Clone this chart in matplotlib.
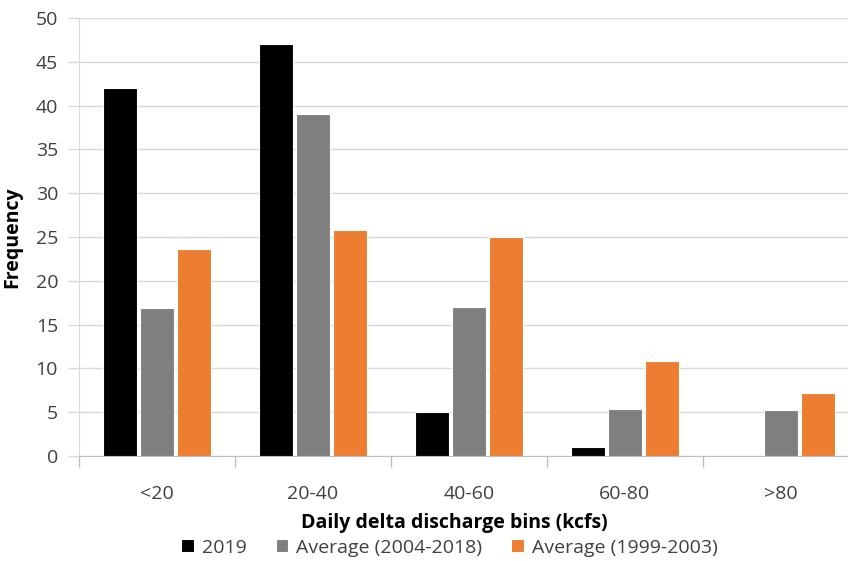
import matplotlib.pyplot as plt
import numpy as np
from matplotlib.ticker import FixedLocator, MultipleLocator, NullFormatter

plt.rcParams["font.family"] = ["Open Sans", "DejaVu Sans"]

bins = ["<20", "20-40", "40-60", "60-80", ">80"]
freq_2019 = [42, 47, 5, 1, 0]
freq_2004_2018 = [16.9, 39, 17, 5.35, 5.25]
freq_1999_2003 = [23.6, 25.8, 25, 10.8, 7.15]

series = [
    ("2019", freq_2019, "#000000"),
    ("Average (2004-2018)", freq_2004_2018, "#7f7f7f"),
    ("Average (1999-2003)", freq_1999_2003, "#ed7d31"),
]

fig = plt.figure(figsize=(8.48, 5.61), dpi=100)
ax = fig.add_axes([0.093, 0.187, 0.907, 0.781])

x = np.arange(len(bins))
width = 0.215
step = 0.238
for i, (name, vals, color) in enumerate(series):
    ax.bar(x + (i - 1) * step, vals, width, color=color, label=name,
           edgecolor="white", linewidth=0.8, zorder=3)

ax.set_ylim(0, 50)
ax.set_xlim(-0.5, 4.43)
ax.yaxis.set_major_locator(MultipleLocator(5))
ax.grid(axis="y", color="#d9d9d9", linewidth=1, zorder=0)

fs = 14
ax.set_xticks(x)
ax.set_xticklabels(bins)
ax.xaxis.set_minor_locator(FixedLocator(np.arange(-0.5, 5, 1)))
ax.xaxis.set_minor_formatter(NullFormatter())
ax.tick_params(axis="x", which="major", length=0, pad=21, labelsize=fs,
               colors="#404040")
ax.tick_params(axis="x", which="minor", length=8, color="#bfbfbf", width=1)
ax.tick_params(axis="y", length=8, color="#d9d9d9", width=1, pad=7,
               labelsize=fs, labelcolor="#404040")

for side in ["top", "right"]:
    ax.spines[side].set_visible(False)
ax.spines["left"].set_color("#d9d9d9")
ax.spines["bottom"].set_color("#bfbfbf")

ax.set_xlabel("Daily delta discharge bins (kcfs)", fontsize=fs,
              fontweight="bold", color="#000000")
ax.xaxis.set_label_coords(0.488, -0.13)
ax.set_ylabel("Frequency", fontsize=fs, fontweight="bold", color="#000000")
ax.yaxis.set_label_coords(-0.073, 0.5)

fig.legend(loc="center", bbox_to_anchor=(0.53, 0.024), ncol=3, frameon=False,
           fontsize=fs, handlelength=0.65, handleheight=0.65,
           handletextpad=0.4, columnspacing=1.5, labelcolor="#404040")

fig.savefig("out.png", dpi=100)
plt.close(fig)
